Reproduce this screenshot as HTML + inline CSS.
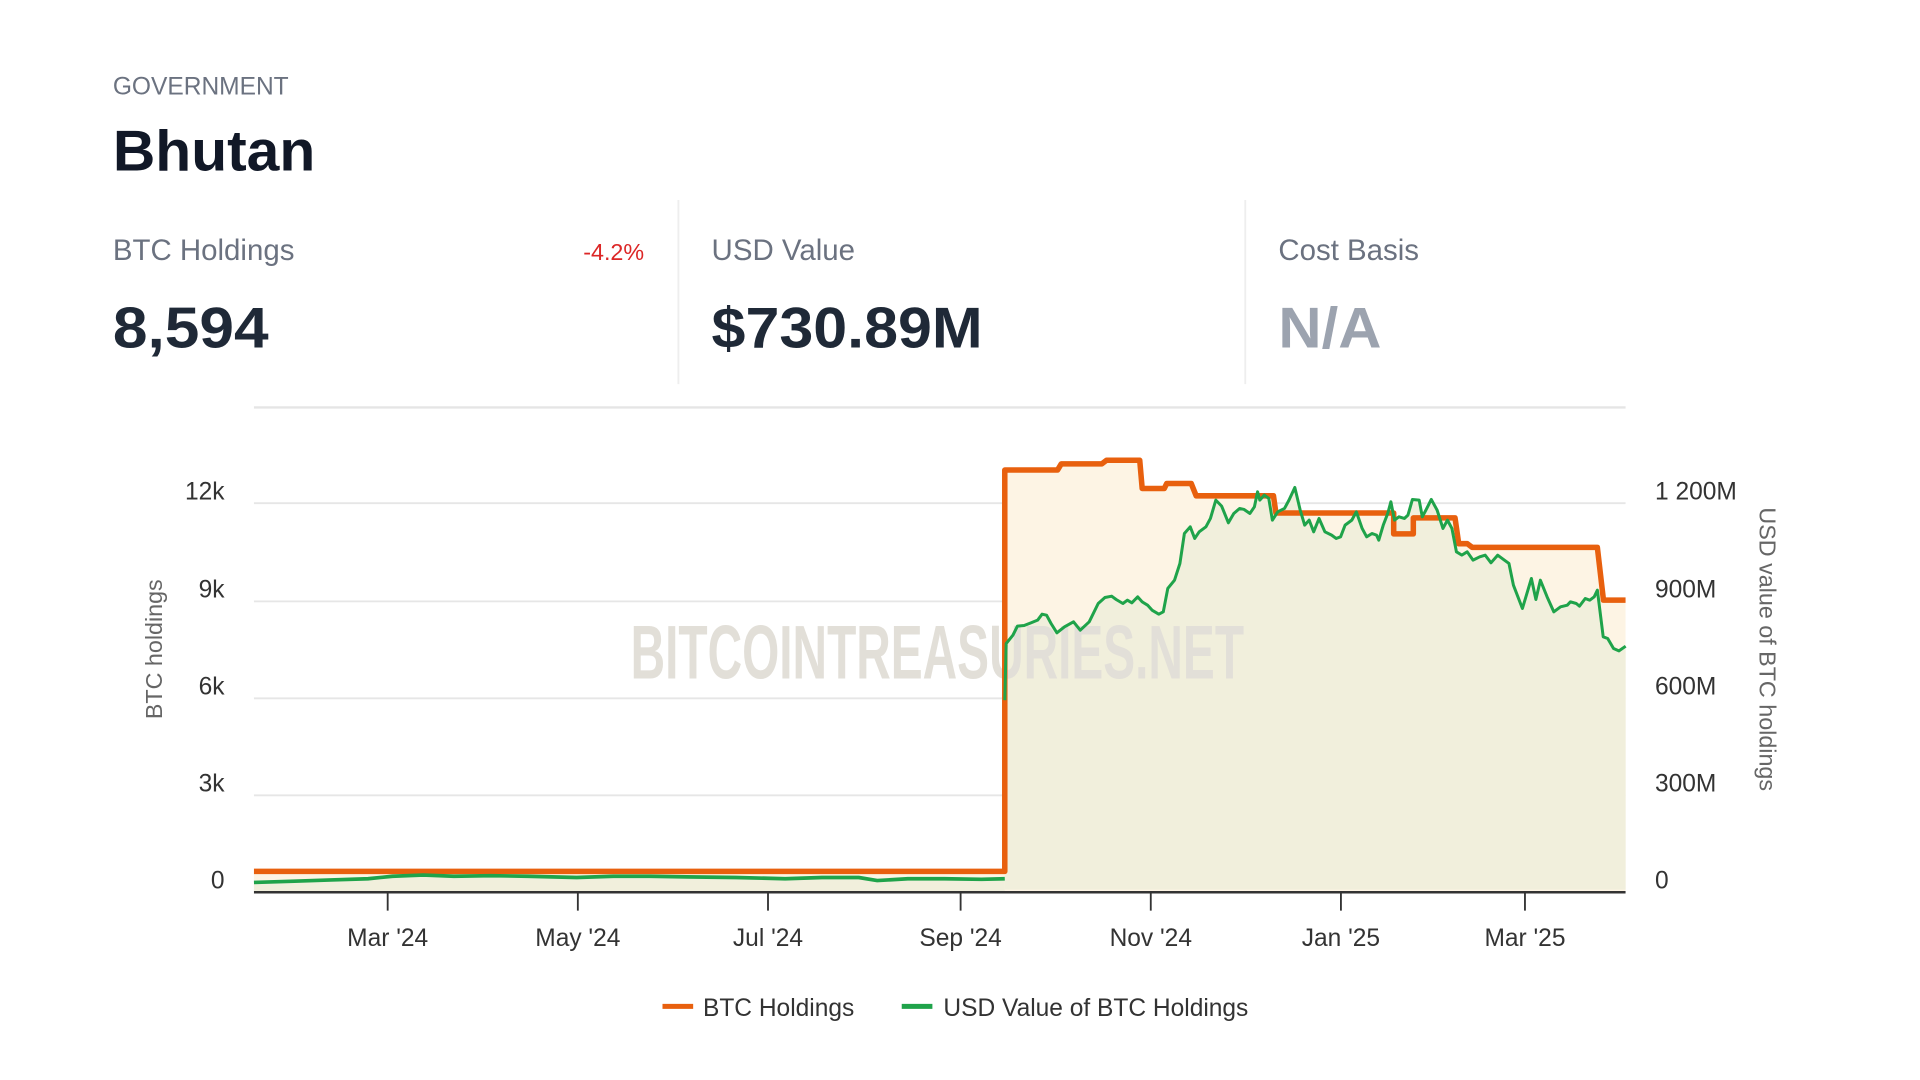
<!DOCTYPE html>
<html><head><meta charset="utf-8"><style>
html,body{margin:0;padding:0;background:#fff;}
svg{display:block;}
text{font-family:"Liberation Sans",sans-serif;}
</style></head><body>
<svg width="1920" height="1080" viewBox="0 0 1565 880" preserveAspectRatio="none" xmlns="http://www.w3.org/2000/svg">
<rect width="1565" height="880" fill="#fff"/>
<text x="92" y="77" font-size="20" fill="#6b7280">GOVERNMENT</text>
<text x="92" y="139" font-size="47" font-weight="bold" fill="#111827" textLength="165" lengthAdjust="spacingAndGlyphs">Bhutan</text>
<text x="92" y="212" font-size="24" fill="#6b7280">BTC Holdings</text>
<text x="525" y="212" font-size="19" fill="#dc2626" text-anchor="end">-4.2%</text>
<text x="92" y="283" font-size="47" font-weight="bold" fill="#1f2937" textLength="127" lengthAdjust="spacingAndGlyphs">8,594</text>
<line x1="553" y1="163" x2="553" y2="313" stroke="#eeeeee" stroke-width="1.5"/>
<text x="580" y="212" font-size="24" fill="#6b7280">USD Value</text>
<text x="580" y="283" font-size="47" font-weight="bold" fill="#1f2937" textLength="221" lengthAdjust="spacingAndGlyphs">$730.89M</text>
<line x1="1015" y1="163" x2="1015" y2="313" stroke="#eeeeee" stroke-width="1.5"/>
<text x="1042" y="212" font-size="24" fill="#6b7280">Cost Basis</text>
<text x="1042" y="283" font-size="47" font-weight="bold" fill="#9ca3af" textLength="84" lengthAdjust="spacingAndGlyphs">N/A</text>

<line x1="207" y1="332" x2="1325" y2="332" stroke="#e5e5e5" stroke-width="2"/>
<g stroke="#e6e6e6" stroke-width="1.5">
<line x1="207" y1="410" x2="1325" y2="410"/>
<line x1="207" y1="490" x2="1325" y2="490"/>
<line x1="207" y1="569" x2="1325" y2="569"/>
<line x1="207" y1="648" x2="1325" y2="648"/>
</g>

<path d="M207,710 H819 V383 H862 L865,378 H898 L902,375 H929 L931,398 H949 L951,394 H971 L975,404 H1038 L1040,418 H1136 V435 H1152 V422 H1186 L1189,443 H1196 L1200,446 H1302 L1307,489 H1325 V727 H207 Z" fill="#fdf4e4"/>

<g>
<path d="M207,719 L240,718 L270,717 L300,716 L320,714 L345,713 L370,714 L400,713.5 L430,714 L470,715 L500,714 L530,714 L560,714.5 L600,715 L640,716 L670,715 L700,715 L715,717.5 L740,716 L770,716 L800,716.5 L819,716 L819,727 L207,727 Z" fill="#f1efdc"/>
<g transform="translate(774.4,326) scale(0.3659,0.2717)">
<path d="M122,900 L125,730 L140,705 L150,678 L165,676 L180,668 L195,660 L205,642 L215,645 L225,670 L238,698 L255,680 L275,665 L290,690 L310,665 L330,610 L345,592 L360,588 L370,598 L385,610 L395,600 L405,608 L418,590 L428,605 L440,615 L450,630 L465,642 L475,635 L485,565 L500,540 L512,490 L522,400 L535,380 L545,415 L555,395 L570,380 L580,355 L592,300 L605,318 L620,368 L632,340 L645,325 L655,328 L668,340 L678,320 L685,275 L690,300 L700,285 L710,295 L718,360 L730,335 L745,325 L755,300 L768,262 L780,330 L790,375 L800,360 L810,395 L822,355 L835,395 L850,405 L860,415 L870,410 L880,375 L895,360 L905,335 L918,385 L928,410 L940,400 L950,405 L955,420 L965,375 L975,340 L982,305 L990,360 L1000,350 L1012,355 L1020,345 L1030,298 L1045,300 L1052,350 L1060,330 L1072,298 L1085,330 L1098,385 L1108,360 L1118,385 L1128,455 L1140,465 L1152,455 L1165,480 L1180,470 L1192,465 L1205,488 L1220,465 L1235,480 L1245,490 L1255,555 L1275,625 L1295,535 L1305,598 L1315,540 L1330,590 L1345,635 L1360,620 L1375,615 L1382,605 L1395,610 L1402,618 L1415,595 L1425,600 L1435,590 L1442,570 L1455,710 L1465,715 L1478,745 L1490,752 L1505,738 L1505,1468 L122,1468 Z" fill="#f1efdc"/>
</g>
</g>

<text x="764" y="553" font-size="62" font-weight="bold" fill="#e2dfd8" text-anchor="middle" textLength="500" lengthAdjust="spacingAndGlyphs">BITCOINTREASURIES.NET</text>

<path d="M207,710 H819 V383 H862 L865,378 H898 L902,375 H929 L931,398 H949 L951,394 H971 L975,404 H1038 L1040,418 H1136 V435 H1152 V422 H1186 L1189,443 H1196 L1200,446 H1302 L1307,489 H1325" fill="none" stroke="#e8600e" stroke-width="4.5" stroke-linejoin="round"/>

<path d="M207,719 L240,718 L270,717 L300,716 L320,714 L345,713 L370,714 L400,713.5 L430,714 L470,715 L500,714 L530,714 L560,714.5 L600,715 L640,716 L670,715 L700,715 L715,717.5 L740,716 L770,716 L800,716.5 L819,716" fill="none" stroke="#1fa34a" stroke-width="3"/>
<g transform="translate(774.4,326) scale(0.3659,0.2717)">
<path d="M122,900 L125,730 L140,705 L150,678 L165,676 L180,668 L195,660 L205,642 L215,645 L225,670 L238,698 L255,680 L275,665 L290,690 L310,665 L330,610 L345,592 L360,588 L370,598 L385,610 L395,600 L405,608 L418,590 L428,605 L440,615 L450,630 L465,642 L475,635 L485,565 L500,540 L512,490 L522,400 L535,380 L545,415 L555,395 L570,380 L580,355 L592,300 L605,318 L620,368 L632,340 L645,325 L655,328 L668,340 L678,320 L685,275 L690,300 L700,285 L710,295 L718,360 L730,335 L745,325 L755,300 L768,262 L780,330 L790,375 L800,360 L810,395 L822,355 L835,395 L850,405 L860,415 L870,410 L880,375 L895,360 L905,335 L918,385 L928,410 L940,400 L950,405 L955,420 L965,375 L975,340 L982,305 L990,360 L1000,350 L1012,355 L1020,345 L1030,298 L1045,300 L1052,350 L1060,330 L1072,298 L1085,330 L1098,385 L1108,360 L1118,385 L1128,455 L1140,465 L1152,455 L1165,480 L1180,470 L1192,465 L1205,488 L1220,465 L1235,480 L1245,490 L1255,555 L1275,625 L1295,535 L1305,598 L1315,540 L1330,590 L1345,635 L1360,620 L1375,615 L1382,605 L1395,610 L1402,618 L1415,595 L1425,600 L1435,590 L1442,570 L1455,710 L1465,715 L1478,745 L1490,752 L1505,738" fill="none" stroke="#1fa34a" stroke-width="3" vector-effect="non-scaling-stroke" stroke-linejoin="round"/>
</g>

<line x1="207" y1="727" x2="1325" y2="727" stroke="#333" stroke-width="2"/>
<g stroke="#333" stroke-width="1.5">
<line x1="316" y1="727" x2="316" y2="742"/>
<line x1="471" y1="727" x2="471" y2="742"/>
<line x1="626" y1="727" x2="626" y2="742"/>
<line x1="783" y1="727" x2="783" y2="742"/>
<line x1="938" y1="727" x2="938" y2="742"/>
<line x1="1093" y1="727" x2="1093" y2="742"/>
<line x1="1243" y1="727" x2="1243" y2="742"/>
</g>
<g font-size="20" fill="#333" text-anchor="middle">
<text x="316" y="771">Mar '24</text>
<text x="471" y="771">May '24</text>
<text x="626" y="771">Jul '24</text>
<text x="783" y="771">Sep '24</text>
<text x="938" y="771">Nov '24</text>
<text x="1093" y="771">Jan '25</text>
<text x="1243" y="771">Mar '25</text>
</g>
<g font-size="20" fill="#333" text-anchor="end">
<text x="183" y="407">12k</text>
<text x="183" y="487">9k</text>
<text x="183" y="566">6k</text>
<text x="183" y="645">3k</text>
<text x="183" y="724">0</text>
</g>
<g font-size="20" fill="#333">
<text x="1349" y="407">1 200M</text>
<text x="1349" y="487">900M</text>
<text x="1349" y="566">600M</text>
<text x="1349" y="645">300M</text>
<text x="1349" y="724">0</text>
</g>
<text transform="translate(132,529) rotate(-90)" font-size="19" fill="#666" text-anchor="middle">BTC holdings</text>
<text transform="translate(1434,529) rotate(90)" font-size="19" fill="#666" text-anchor="middle">USD value of BTC holdings</text>

<line x1="540" y1="820" x2="565" y2="820" stroke="#e8600e" stroke-width="4"/>
<text x="573" y="828" font-size="20" fill="#333">BTC Holdings</text>
<line x1="735" y1="820" x2="760" y2="820" stroke="#1fa34a" stroke-width="4"/>
<text x="769" y="828" font-size="20" fill="#333">USD Value of BTC Holdings</text>
</svg>
</body></html>
